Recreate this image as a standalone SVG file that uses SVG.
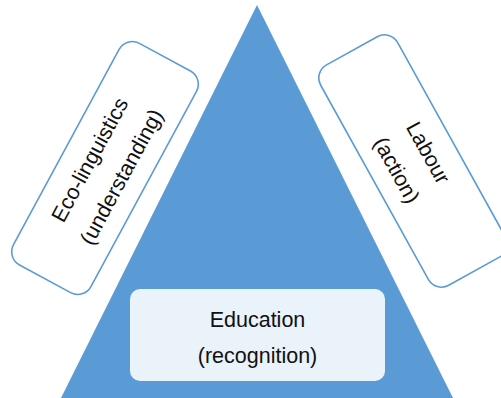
<svg xmlns="http://www.w3.org/2000/svg" width="501" height="398" viewBox="0 0 501 398">
  <style>
    .side { fill: #ffffff; stroke: #5b9bd5; stroke-width: 1.6; }
    .base { fill: #eaf2fa; stroke: none; }
    .lbl { font-family: "Liberation Sans", Arial, sans-serif; font-size: 21.5px; fill: #111111; text-anchor: middle; }
  </style>
  <rect width="501" height="398" fill="#ffffff"/>
  <!-- pyramid -->
  <g id="pyramid">
    <polygon points="257,5 59,402 455,402" fill="#5b9bd5"/>
  </g>
  <!-- left side card -->
  <g id="eco-linguistics" transform="translate(105,168) rotate(-61.6)">
    <rect class="side" x="-126" y="-44" width="252" height="88" rx="15"/>
    <text class="lbl" x="0" y="-10">Eco-linguistics</text>
    <text class="lbl" x="0" y="26">(understanding)</text>
  </g>
  <!-- right side card -->
  <g id="labour" transform="translate(413,161) rotate(61)">
    <rect class="side" x="-126" y="-44" width="252" height="88" rx="15"/>
    <text class="lbl" x="0" y="-10">Labour</text>
    <text class="lbl" x="0" y="26">(action)</text>
  </g>
  <!-- base card -->
  <g id="education">
    <rect class="base" x="130" y="289" width="255" height="92" rx="10"/>
    <text class="lbl" x="257.5" y="327">Education</text>
    <text class="lbl" x="257.5" y="363">(recognition)</text>
  </g>
  <g id="connectors"/>
</svg>
